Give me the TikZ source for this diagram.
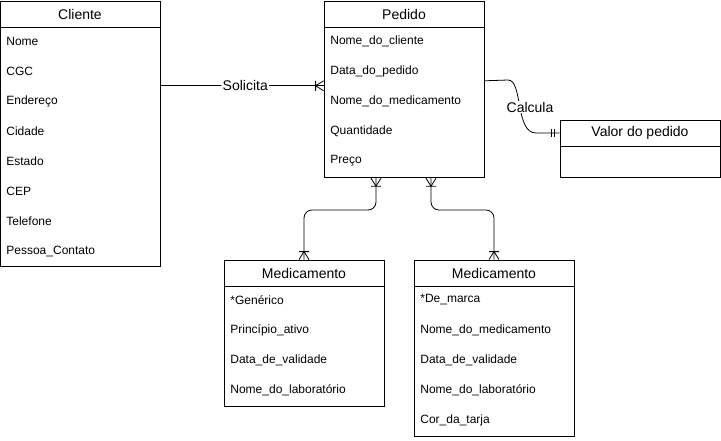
\documentclass[tikz,border=0pt]{standalone}
\usepackage{fontspec}
\setmainfont{Liberation Sans}
\usetikzlibrary{positioning}

\begin{document}
\begin{tikzpicture}[x=0.75pt,y=-0.75pt,line width=0.6pt]
        \tikzset{head/.style = {draw, minimum width=120pt, minimum height=19.5pt, inner sep=0, font=\fontsize{10.5}{12}\selectfont}};
        \tikzset{body/.style = {draw, minimum width=120pt, inner sep=0}};
        \tikzset{attr/.style = {anchor=west, inner sep=0, yshift=-0.75pt, font=\fontsize{9}{11}\selectfont}};
        \tikzset{rel/.style = {rounded corners=6pt}};
        \tikzset{lbl/.style = {fill=white, inner sep=1pt, font=\fontsize{10.5}{12}\selectfont}};
        \tikzset{onemany/.pic = {\draw (0,-5) -- (-8,0) -- (0,5) (-8,-5) -- (-8,5);}};
        \tikzset{mandone/.pic = {\draw (-5,-4) -- (-5,4) (-8,-4) -- (-8,4);}};
        \useasboundingbox (0,0) rectangle (721,440);
        % entities
        \node[head] (cliente) at (80,14) {Cliente};
        \node[body, minimum height=179.25pt, below=0pt of cliente] (cliente-b) {};
        \node[head] (pedido) at (404,14) {Pedido};
        \node[body, minimum height=112.5pt, below=0pt of pedido] (pedido-b) {};
        \node[head] (valor) at (640,133) {Valor do pedido};
        \node[body, minimum height=23.25pt, below=0pt of valor] (valor-b) {};
        \node[head] (gen) at (304,273) {Medicamento};
        \node[body, minimum height=90pt, below=0pt of gen] (gen-b) {};
        \node[head] (marca) at (494,273) {Medicamento};
        \node[body, minimum height=112.5pt, below=0pt of marca] (marca-b) {};
        % attributes
        \node[attr] at (6,40) {Nome};
        \node[attr] at (6,70) {CGC};
        \node[attr] at (6,100) {Endereço};
        \node[attr] at (6,130) {Cidade};
        \node[attr] at (6,160) {Estado};
        \node[attr] at (6,190) {CEP};
        \node[attr] at (6,220) {Telefone};
        \node[attr] at (6,250) {Pessoa\_Contato};
        \node[attr] at (330,40) {Nome\_do\_cliente};
        \node[attr] at (330,70) {Data\_do\_pedido};
        \node[attr] at (330,100) {Nome\_do\_medicamento};
        \node[attr] at (330,130) {Quantidade};
        \node[attr] at (330,160) {Preço};
        \node[attr] at (230,299) {*Genérico};
        \node[attr] at (230,329) {Princípio\_ativo};
        \node[attr] at (230,359) {Data\_de\_validade};
        \node[attr] at (230,389) {Nome\_do\_laboratório};
        \node[attr] at (420,299) {*De\_marca};
        \node[attr] at (420,329) {Nome\_do\_medicamento};
        \node[attr] at (420,359) {Data\_de\_validade};
        \node[attr] at (420,389) {Nome\_do\_laboratório};
        \node[attr] at (420,419) {Cor\_da\_tarja};
        % relationships
        \draw[rel] ([yshift=46.125pt]cliente-b.east) -- node[lbl, pos=0.52] {Solicita} ([yshift=12.75pt]pedido-b.west);
        \pic at ([yshift=12.75pt]pedido-b.west) {onemany};
        \draw ([yshift=16.5pt]pedido-b.east) -- (508,80) .. controls (523,80) and (515,133) .. (536,133) -- (valor.west);
        \node[lbl] at (530,107) {Calcula};
        \pic at (valor.west) {mandone};
        \draw[rel] ([xshift=-21pt]pedido-b.south) -- (376,210) -| (gen.north);
        \pic[rotate=90] at ([xshift=-21pt]pedido-b.south) {onemany};
        \pic[rotate=-90] at (gen.north) {onemany};
        \draw[rel] ([xshift=20.25pt]pedido-b.south) -- (431,210) -| (marca.north);
        \pic[rotate=90] at ([xshift=20.25pt]pedido-b.south) {onemany};
        \pic[rotate=-90] at (marca.north) {onemany};
    \end{tikzpicture}
\end{document}
